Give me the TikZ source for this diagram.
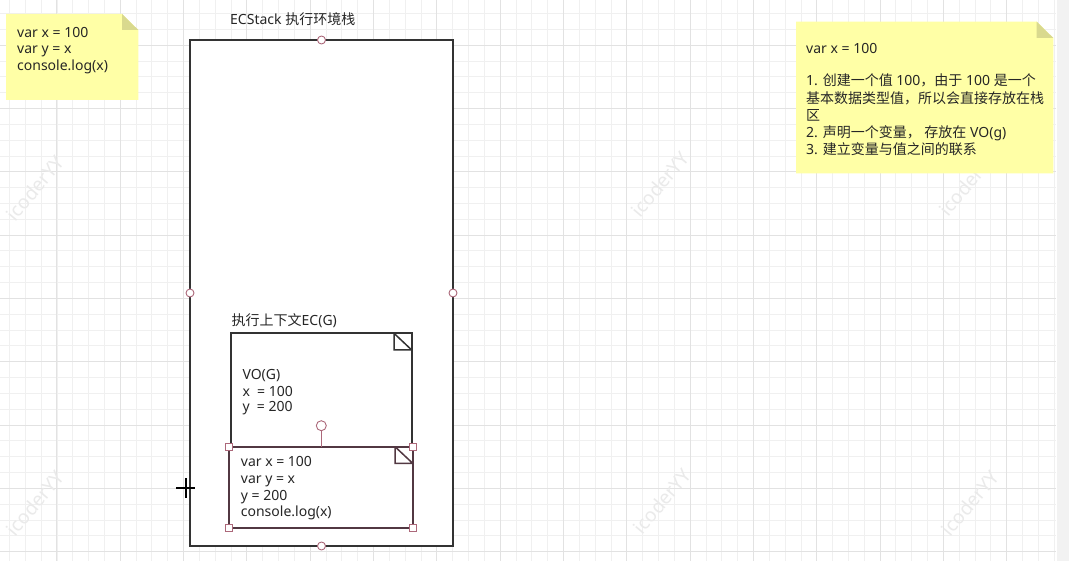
\documentclass[tikz,border=0pt]{standalone}
\usepackage{fontspec}
\setmainfont{Noto Sans}
\newfontfamily\cjk{Noto Sans CJK SC}
\definecolor{sticky}{RGB}{255,255,166}
\definecolor{fold}{RGB}{217,217,142}
\definecolor{gridminor}{RGB}{240,240,240}
\definecolor{gridmajor}{RGB}{226,226,226}
\definecolor{edge}{RGB}{51,51,51}
\definecolor{seledge}{RGB}{82,56,66}
\definecolor{handle}{RGB}{172,104,122}
\definecolor{wmark}{RGB}{234,234,234}
\definecolor{strip}{RGB}{242,242,242}
\begin{document}
\begin{tikzpicture}[x=1pt,y=-1pt,
  txt/.style={anchor=base west, inner sep=0pt, font=\fontsize{14}{16}\selectfont, text=black!85},
  wm/.style={inner sep=0pt, font=\fontsize{19}{20}\selectfont, text=wmark, rotate=50},
  circhandle/.style={circle, draw=handle, fill=white, line width=0.9pt, minimum size=8pt, inner sep=0pt},
  sqhandle/.style={rectangle, draw=handle, fill=white, line width=0.9pt, minimum size=7pt, inner sep=0pt},
  shapeline/.style={draw=edge, line width=1.8pt},
]
\useasboundingbox (0,0) rectangle (1069,561);
\fill[white] (0,0) rectangle (1069,561);
% grid
\foreach \k in {-3,...,63} {\draw[gridminor, line width=0.8pt] ({56.9+\k*15.83},0) -- ({56.9+\k*15.83},561);}
\foreach \k in {-2,...,32} {\draw[gridminor, line width=0.8pt] (0,{45.1+\k*15.83}) -- (1056,{45.1+\k*15.83});}
\foreach \k in {0,4,...,60} {\draw[gridmajor, line width=0.9pt] ({56.9+\k*15.83},0) -- ({56.9+\k*15.83},561);}
\foreach \k in {0,4,...,32} {\draw[gridmajor, line width=0.9pt] (0,{45.1+\k*15.83}) -- (1056,{45.1+\k*15.83});}
\fill[strip] (1057,0) rectangle (1069,561);
% watermarks
\node[wm] (wm1) at (35,188) {icoderYY};
\node[wm] (wm2) at (660,184) {icoderYY};
\node[wm] (wm3) at (968,183) {icoderYY};
\node[wm] (wm4) at (35,503) {icoderYY};
\node[wm] (wm5) at (662,501) {icoderYY};
\node[wm] (wm6) at (970,503) {icoderYY};
% left sticky note
\fill[sticky] (6,14) -- (122,14) -- (138.3,30) -- (138.3,100) -- (6,100) -- cycle;
\fill[fold] (122,14) -- (122,30) -- (138.3,30) -- cycle;
\node[txt] (l1) at (17,37.5) {var x = 100};
\node[txt] (l2) at (17,54) {var y = x};
\node[txt] (l3) at (17,70.5) {console.log(x)};
% right sticky note
\fill[sticky] (796,21.7) -- (1036.7,21.7) -- (1053.3,38) -- (1053.3,173.3) -- (796,173.3) -- cycle;
\fill[fold] (1036.7,21.7) -- (1036.7,38) -- (1053.3,38) -- cycle;
\node[txt] (r0) at (806,53.5) {var x = 100};
\node[txt] (r1) at (806,86) {1. {\cjk 创建一个值} 100{\cjk ，由于} 100 {\cjk 是一个}};
\node[txt] (r2) at (806,103.5) {\cjk 基本数据类型值，所以会直接存放在栈};
\node[txt] (r3) at (806,121) {\cjk 区};
\node[txt] (r4) at (806,137.5) {2. {\cjk 声明一个变量，} {\cjk 存放在} VO(g)};
\node[txt] (r5) at (806,155) {3. {\cjk 建立变量与值之间的联系}};
% ECStack
\node[txt] (stacklabel) at (230,25) {ECStack {\cjk 执行环境栈}};
\draw[shapeline, fill=white] (190,40) rectangle (453,546);
\node[circhandle] (hn) at (321.5,40) {};
\node[circhandle] (hw) at (190,293) {};
\node[circhandle] (he) at (453,293) {};
\node[circhandle] (hs) at (321.5,546) {};
% EC(G)
\node[txt] (eclabel) at (231.5,326) {{\cjk 执行上下文}EC(G)};
\draw[shapeline, fill=white] (231,333.3) rectangle (411.7,446.7);
\draw[shapeline, line width=1.5pt] (394,333.3) -- (394,350) -- (411.7,350) (394,333.3) -- (411.7,350);
\node[txt] (vo1) at (242.3,380) {VO(G)};
\node[txt] (vo2) at (242.3,396) {x\ \ = 100};
\node[txt] (vo3) at (242.3,412) {y\ \ = 200};
% selected code note
\draw[draw=seledge, line width=1.8pt, fill=white] (229.3,446.7) rectangle (412.7,527.7);
\draw[draw=seledge, line width=1.5pt] (395,446.7) -- (395,463.3) -- (412.7,463.3) (395,446.7) -- (412.7,463.3);
\node[txt] (c1) at (240.7,466.7) {var x = 100};
\node[txt] (c2) at (240.7,483.3) {var y = x};
\node[txt] (c3) at (240.7,500) {y = 200};
\node[txt] (c4) at (240.7,516.7) {console.log(x)};
\coordinate (ectop) at (321.3,446.7);
\node[circhandle, minimum size=10pt] (rot) at (321.3,425.7) {};
\draw[handle, line width=1pt] (rot.south) -- (ectop);
\node[sqhandle] (s1) at (229.3,446.7) {};
\node[sqhandle] (s2) at (412.7,446.7) {};
\node[sqhandle] (s3) at (229.3,527.7) {};
\node[sqhandle] (s4) at (412.7,527.7) {};
% cursor
\coordinate (cur) at (186,488.3);
\draw[black, line width=1.8pt] (176,488.3) -- (195,488.3) (186,478) -- (186,498);
\end{tikzpicture}
\end{document}
